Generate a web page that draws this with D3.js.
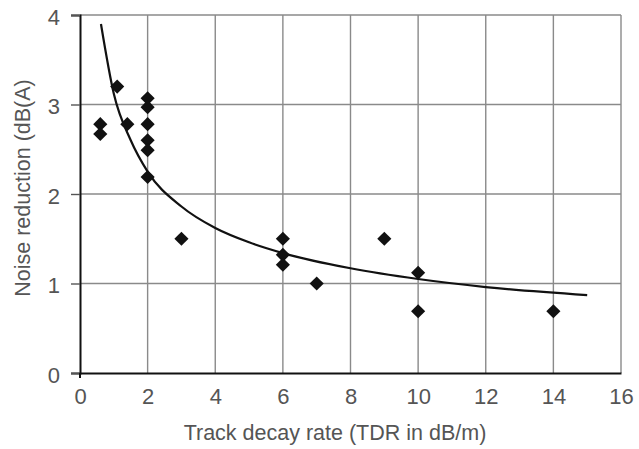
<!DOCTYPE html>
<html>
<head>
<meta charset="utf-8">
<script src="https://cdn.jsdelivr.net/npm/d3@7"></script>
<style>
  body { margin: 0; background: #fff; }
  text { font-family: "Liberation Sans", Arial, sans-serif; fill: #555; }
</style>
</head>
<body>
<svg width="639" height="449"></svg>
<script>
// measured points
const tdr   = [0.6, 0.6, 1.1, 1.4, 2, 2, 2, 2, 2, 2, 3, 6, 6, 6, 7, 9, 10, 10, 14];
const noise = [2.78, 2.67, 3.2, 2.78, 3.07, 2.97, 2.78, 2.6, 2.49, 2.19, 1.5, 1.5, 1.32, 1.21, 1.0, 1.5, 1.12, 0.69, 0.69];

// trend line
const trendX = [0.62, 1, 1.5, 2, 3, 4, 5, 6, 8, 10, 12, 15];
const trendY = [3.9, 3.12, 2.6, 2.25, 1.86, 1.62, 1.46, 1.34, 1.17, 1.05, 0.96, 0.87];

const xTicks = [0, 2, 4, 6, 8, 10, 12, 14, 16];
const yTicks = [0, 1, 2, 3, 4];

const plotLeft = 80, plotRight = 621, plotTop = 15, plotBottom = 373;

const svg = d3.select("svg");

const x = d3.scaleLinear().domain([0, 16]).range([plotLeft, plotRight]);
const y = d3.scaleLinear().domain([0, 4]).range([plotBottom, plotTop]);

// grid
svg.append("g")
   .selectAll("line")
   .data(xTicks.slice(1))
   .enter()
   .append("line")
   .attr("x1", d => x(d)).attr("x2", d => x(d))
   .attr("y1", plotTop).attr("y2", plotBottom)
   .attr("stroke", "#8a8a8a")
   .attr("stroke-width", 1.4);

svg.append("g")
   .selectAll("line")
   .data(yTicks.slice(1))
   .enter()
   .append("line")
   .attr("x1", plotLeft).attr("x2", plotRight)
   .attr("y1", d => y(d)).attr("y2", d => y(d))
   .attr("stroke", "#8a8a8a")
   .attr("stroke-width", 1.4);

// axes
const xAxis = svg.append("g")
   .attr("transform", `translate(0, ${plotBottom})`)
   .call(d3.axisBottom(x).tickValues(xTicks).tickFormat(d3.format("d")).tickSize(0).tickPadding(15));

const yAxis = svg.append("g")
   .attr("transform", `translate(${plotLeft}, 0)`)
   .call(d3.axisLeft(y).tickValues(yTicks).tickFormat(d3.format("d")).tickSize(9).tickPadding(11));

xAxis.select(".domain").attr("stroke", "#111").attr("stroke-width", 2);
yAxis.select(".domain").attr("stroke", "#111").attr("stroke-width", 2);
yAxis.selectAll(".tick line").attr("stroke", "#555").attr("stroke-width", 1.4);
xAxis.selectAll(".tick text").style("font-size", "22px").attr("fill", "#555");
yAxis.selectAll(".tick text").style("font-size", "22px").attr("fill", "#555").attr("dy", "0.42em");

// little tick below the origin
svg.append("line")
   .attr("x1", x(0)).attr("x2", x(0))
   .attr("y1", plotBottom).attr("y2", plotBottom + 5)
   .attr("stroke", "#111").attr("stroke-width", 2);

// trend curve
const line = d3.line()
   .x(d => x(d[0]))
   .y(d => y(d[1]))
   .curve(d3.curveMonotoneX);

svg.append("path")
   .datum(trendX.map((d, i) => [d, trendY[i]]))
   .attr("d", line)
   .attr("fill", "none")
   .attr("stroke", "#111")
   .attr("stroke-width", 2.2);

// diamonds
const diamond = d3.symbol().type(d3.symbolSquare).size(100);

svg.append("g")
   .selectAll("path")
   .data(tdr)
   .enter()
   .append("path")
   .attr("d", diamond)
   .attr("transform", (d, i) => `translate(${x(d)}, ${y(noise[i])}) rotate(45)`)
   .attr("fill", "#111");

// titles
svg.append("text")
   .attr("x", 335)
   .attr("y", 440)
   .style("text-anchor", "middle")
   .style("font-size", "21.5px")
   .text("Track decay rate (TDR in dB/m)");

svg.append("text")
   .attr("transform", "translate(29.5, 188) rotate(-90)")
   .style("text-anchor", "middle")
   .style("font-size", "21.5px")
   .text("Noise reduction (dB(A)");
</script>
</body>
</html>
